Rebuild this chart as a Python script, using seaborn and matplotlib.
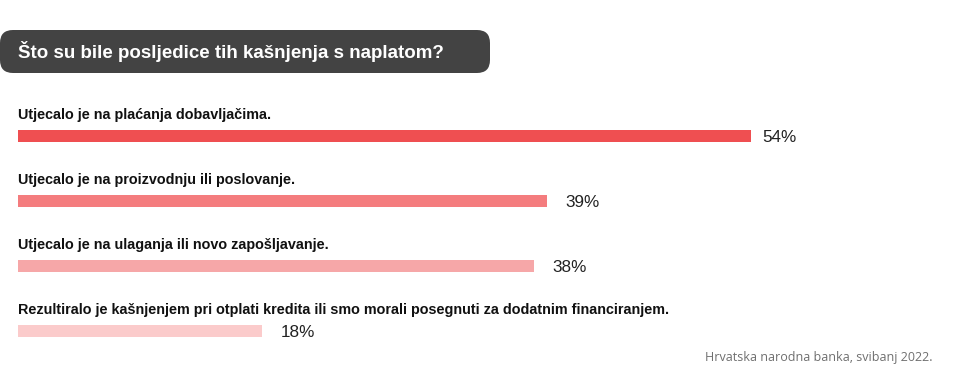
import pandas as pd
import numpy as np
import seaborn as sns
import matplotlib.pyplot as plt
from matplotlib.patches import FancyBboxPatch

title = "Što su bile posljedice tih kašnjenja s naplatom?"
labels = [
    "Utjecalo je na plaćanja dobavljačima.",
    "Utjecalo je na proizvodnju ili poslovanje.",
    "Utjecalo je na ulaganja ili novo zapošljavanje.",
    "Rezultiralo je kašnjenjem pri otplati kredita ili smo morali posegnuti za dodatnim financiranjem.",
]
values = [54, 39, 38, 18]
colors = ["#EF4F51", "#F47C7E", "#F6A7A8", "#FBCBCB"]
source = "Hrvatska narodna banka, svibanj 2022."

df = pd.DataFrame({"label": labels, "value": values})

W, H = 955, 392
fig = plt.figure(figsize=(W / 100, H / 100), dpi=100)

# overlay axes in pixel coordinates for the title box and footer
bg = fig.add_axes([0, 0, 1, 1])
bg.set_xlim(0, W)
bg.set_ylim(H, 0)
bg.axis("off")
box = FancyBboxPatch((0, 30), 490, 43, boxstyle="round,pad=0,rounding_size=13",
                     facecolor="#434343", edgecolor="none")
bg.add_patch(box)
bg.text(18, 51.5, title, color="white", fontsize=13.5, fontweight="bold",
        family="Liberation Sans", va="center", ha="left")
bg.text(932, 358, source, color="#6f6f6f", fontsize=9, family="Open Sans",
        va="center", ha="right")

# bar axes: 13.57 px per percent, rows 65 px apart
scale = 13.57
ax = fig.add_axes([18 / W, 28.5 / H, 920 / W, 260 / H])
ax.patch.set_alpha(0)
sns.barplot(data=df, x="value", y="label", hue="label", palette=colors,
            saturation=1, orient="h", width=12 / 65, legend=False, ax=ax)
ax.set_xlim(0, 920 / scale)
ax.set_ylim(3.5, -0.5)
ax.axis("off")

for i, (lab, v) in enumerate(zip(labels, values)):
    ax.text(0, i - 0.325, lab, fontsize=10.4, fontweight="bold", family="Liberation Sans",
            color="#111111", va="center", ha="left")
    gap = 12 if i == 0 else 18.5
    ax.text(v + gap / scale, i + 0.02, f"{v}%", fontsize=12.3, family="Liberation Sans",
            color="#222222", va="center", ha="left")

fig.savefig("out.png", dpi=100)
